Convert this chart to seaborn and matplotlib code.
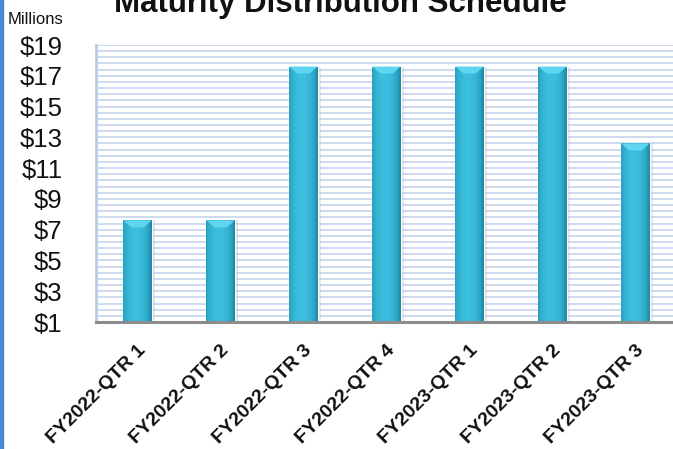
import matplotlib
matplotlib.use("Agg")
import matplotlib.pyplot as plt
import seaborn as sns
import pandas as pd
import numpy as np
from matplotlib.patches import Rectangle

# values (millions of $)
quarters = ["FY2022-QTR 1", "FY2022-QTR 2", "FY2022-QTR 3", "FY2022-QTR 4",
            "FY2023-QTR 1", "FY2023-QTR 2", "FY2023-QTR 3"]
amounts = [7.6, 7.6, 17.6, 17.6, 17.6, 17.6, 12.6]
y_ticks = [1, 3, 5, 7, 9, 11, 13, 15, 17, 19]
y_labels = ["$" + str(v) for v in y_ticks]

sns.set_theme(style="white")
plt.rcParams["font.family"] = ["Liberation Sans", "DejaVu Sans"]

df = pd.DataFrame({"quarter": quarters, "amount": amounts})

fig = plt.figure(figsize=(6.73, 4.49), dpi=100)
ax = fig.add_axes([96 / 673, 1 - 322 / 449, 581 / 673, 277 / 449])

# dense light-blue background grid
for yv in np.arange(1, 19.01, 0.4):
    ax.axhline(yv, color="#cddaee", lw=1.4, zorder=0)

sns.barplot(data=df, x="quarter", y="amount", color="#35b3d3", width=0.34,
            saturation=1, ax=ax, zorder=3)

# cylinder-like horizontal gradient on each bar
grad = np.linspace(0, 1, 64)
shade = 1 - 0.55 * (np.abs(grad - 0.45) / 0.55) ** 2
cmap = matplotlib.colors.LinearSegmentedColormap.from_list(
    "bar", ["#1b7f98", "#2ea7c6", "#3cbfe0"])
for p in ax.patches:
    x0, w, h = p.get_x(), p.get_width(), p.get_height()
    # soft shadow on the right
    ax.add_patch(Rectangle((x0 + w, 1), w * 0.12, h - 1, color="#b0b8c0",
                           alpha=0.35, lw=0, zorder=2))
    im = ax.imshow(shade[np.newaxis, :], cmap=cmap, aspect="auto",
                   extent=(x0, x0 + w, 1, h), zorder=4, vmin=0.4, vmax=1)
    im.set_clip_path(p)
    # lighter bevel at the top
    ax.fill([x0, x0 + w, x0 + w * 0.72, x0 + w * 0.28],
            [h, h, h - 0.45, h - 0.45], color="#5fd6f0", lw=0, zorder=5)

ax.set_ylim(1, 19)
ax.set_xlim(-0.5, 6.5)
ax.set_yticks(y_ticks)
ax.set_yticklabels(y_labels, fontsize=18.5, color="#111111")
ax.tick_params(axis="y", length=0, pad=24)

ax.set_xticks(np.arange(-0.5, 6.6, 1), minor=True)
ax.set_xticks(range(len(quarters)))
ax.set_xticklabels(quarters, rotation=45, ha="right", rotation_mode="anchor",
                   fontsize=14, fontweight="bold", color="#111111")
ax.tick_params(axis="x", which="major", length=0, pad=14)
ax.tick_params(axis="x", which="minor", length=5, width=1.5,
               color="#8c8c8c", direction="out")
ax.set_xlabel("")
ax.set_ylabel("")

for s in ["top", "right"]:
    ax.spines[s].set_visible(False)
ax.spines["bottom"].set_color("#8c8c8c")
ax.spines["bottom"].set_linewidth(2.2)
ax.spines["bottom"].set_zorder(6)
ax.spines["left"].set_color("#b8cce4")
ax.spines["left"].set_linewidth(2)

fig.text(340 / 673, 1 - 12 / 449, "Maturity Distribution Schedule",
         ha="center", va="baseline", fontsize=22.5, fontweight="bold",
         color="#111111")
fig.text(8 / 673, 1 - 19 / 449, "Millions", ha="left", va="center",
         fontsize=12, color="#111111")

# blue border strip on the left edge
fig.patches.append(Rectangle((0, 0), 3 / 673, 1, transform=fig.transFigure,
                             color="#4a88d8", zorder=10))

fig.savefig("out.png", dpi=100)
plt.close(fig)
